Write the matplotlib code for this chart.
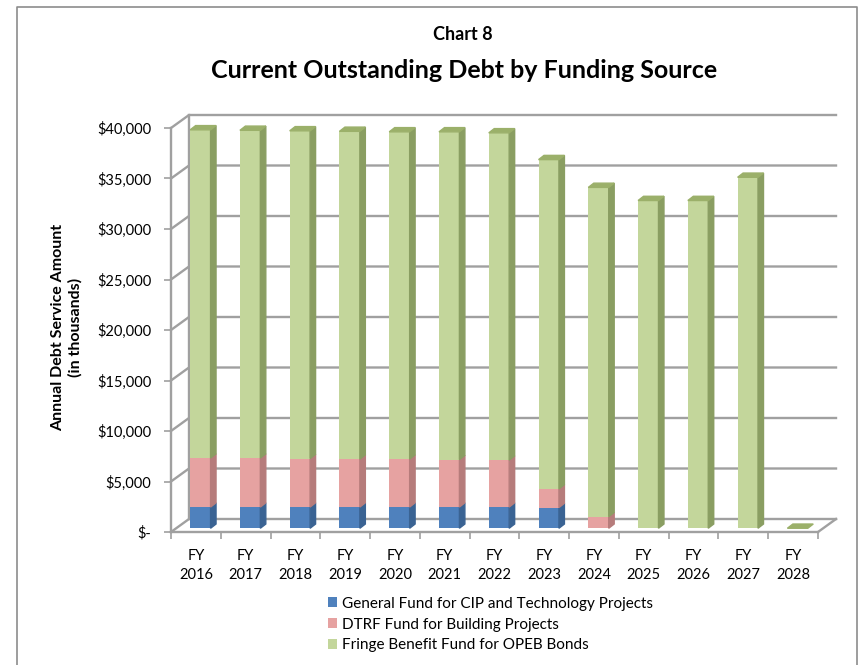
import matplotlib.pyplot as plt
from matplotlib.patches import Polygon

plt.rcParams['font.family'] = ['Lato', 'DejaVu Sans']

years = ["2016", "2017", "2018", "2019", "2020", "2021", "2022",
         "2023", "2024", "2025", "2026", "2027", "2028"]
general_fund = [2100, 2100, 2100, 2100, 2100, 2100, 2100, 2050, 0, 0, 0, 0, 0]
dtrf_fund = [4850, 4850, 4800, 4750, 4750, 4700, 4650, 1850, 1150, 0, 0, 0, 0]
fringe_fund = [32500, 32450, 32450, 32450, 32400, 32450, 32400, 32600,
               32600, 32450, 32450, 34750, 0]
series_names = ["General Fund for CIP and Technology Projects",
                "DTRF Fund for Building Projects",
                "Fringe Benefit Fund for OPEB Bonds"]
front_colors = ["#4f81bd", "#e6a2a1", "#c3d69b"]
side_colors = ["#3a6393", "#b67c7b", "#8a9e62"]
top_colors = ["#6d93c6", "#d69392", "#9bb06a"]

W, H = 864, 665
fig = plt.figure(figsize=(W / 100, H / 100), dpi=100)

# plot area in pixel terms: front-left axis at x=171, floor at y=532, $40,000 at y=128
ax = fig.add_axes([171 / W, 1 - 532 / H, (818 - 171) / W, (532 - 128) / H])
ax.set_xlim(-0.5, 12.5)
ax.set_ylim(0, 40000)

# depth of the pseudo 3D box, in data units
DX = 18 / ((818 - 171) / 13)
DY = 13 * 40000 / (532 - 128)
grid_c = "#a0a0a0"

# back wall gridlines and left wall diagonals
for v in range(0, 40001, 5000):
    ax.plot([-0.5, -0.5 + DX, 12.5 + DX], [v, v + DY, v + DY],
            color=grid_c, lw=1.7, clip_on=False, zorder=1)
ax.plot([-0.5 + DX, -0.5 + DX], [DY, 40000 + DY], color=grid_c, lw=1.7,
        clip_on=False, zorder=1)
# right edge of the floor
ax.plot([12.5, 12.5 + DX], [0, DY], color=grid_c, lw=1.7, clip_on=False, zorder=1)

# bars: front face via ax.bar, side and top faces as polygons
bx_off, bw = 0.09, 0.41
bdx, bdy = 0.11, 420
base = 370
xs = list(range(len(years)))
bottoms = [base] * len(years)
handles = []
for k, vals in enumerate([general_fund, dtrf_fund, fringe_fund]):
    bars = ax.bar([x + bx_off for x in xs], vals, width=bw, bottom=bottoms,
                  color=front_colors[k], zorder=3, clip_on=False,
                  label=series_names[k])
    handles.append(bars)
    for x, v, b in zip(xs, vals, bottoms):
        xr = x + bx_off + bw / 2
        if v > 0:
            ax.add_patch(Polygon([(xr, b), (xr + bdx, b + bdy),
                                  (xr + bdx, b + v + bdy), (xr, b + v)],
                                 closed=True, color=side_colors[k],
                                 zorder=3, clip_on=False))
    bottoms = [b + v for b, v in zip(bottoms, vals)]

# top faces of each stack
for x, t in zip(xs, bottoms):
    xl = x + bx_off - bw / 2
    xr = x + bx_off + bw / 2
    ax.add_patch(Polygon([(xl, t), (xr, t), (xr + bdx, t + bdy), (xl + bdx, t + bdy)],
                         closed=True, color=top_colors[2], zorder=4, clip_on=False))

for s in ["top", "right"]:
    ax.spines[s].set_visible(False)
for s in ["left", "bottom"]:
    ax.spines[s].set_color(grid_c)
    ax.spines[s].set_linewidth(1.7)

ax.set_yticks(range(0, 40001, 5000))
ax.set_yticklabels(["$-"] + [f"${v:,}" for v in range(5000, 40001, 5000)],
                   fontsize=10.5)
ax.tick_params(axis="y", length=5, width=1.2, color=grid_c, pad=9)
ax.set_xticks(xs)
ax.set_xticklabels([f"FY\n{y}" for y in years], fontsize=10.5, linespacing=1.45)
ax.tick_params(axis="x", which="major", length=0, pad=12)
ax.set_xticks([x - 0.5 for x in range(len(years) + 1)], minor=True)
ax.tick_params(axis="x", which="minor", length=5, width=1.2, color=grid_c)

fig.text(67 / W, 1 - 327 / H, "Annual Debt Service Amount\n(in thousands)",
         rotation=90, ha="center", va="center", fontsize=11.5,
         fontweight="bold", linespacing=1.25)

fig.text(463 / W, 1 - 34 / H, "Chart 8", ha="center", va="center",
         fontsize=13, fontweight="bold")
fig.text(464 / W, 1 - 70 / H, "Current Outstanding Debt by Funding Source",
         ha="center", va="center", fontsize=18, fontweight="bold")

fig.legend(handles=handles, labels=series_names, loc="upper left",
           bbox_to_anchor=(320 / W, 1 - 589 / H), frameon=False, fontsize=11,
           handlelength=0.6, handleheight=0.6, handletextpad=0.35,
           labelspacing=0.45, borderpad=0)

# outer border of the chart
fig.add_artist(plt.Line2D([17 / W, 17 / W, 857 / W, 857 / W],
                          [0, 1 - 7 / H, 1 - 7 / H, 0],
                          color="#8c8c8c", lw=1.2, transform=fig.transFigure))

fig.savefig("out.png", dpi=100)
